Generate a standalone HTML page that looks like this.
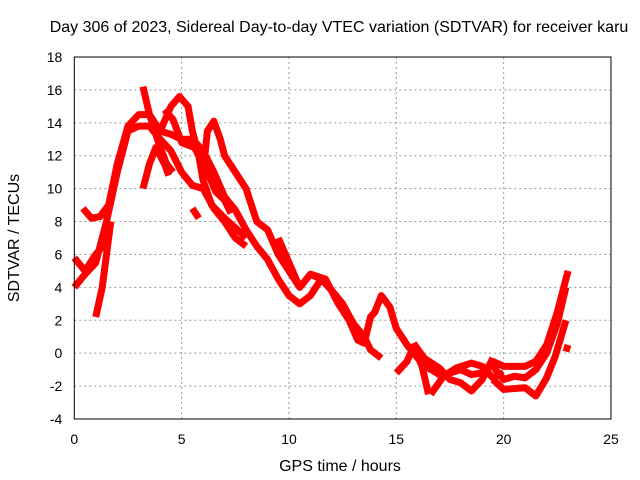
<!DOCTYPE html>
<html><head><meta charset="utf-8"><style>
body{margin:0;background:#fff}
svg{display:block;font-family:"Liberation Sans",sans-serif}
</style></head><body>
<svg id="chart" width="640" height="480">
<text x="339" y="32" font-size="16" text-anchor="middle">Day 306 of 2023, Sidereal Day-to-day VTEC variation (SDTVAR) for receiver karu</text>
<text x="340" y="471" font-size="16" text-anchor="middle">GPS time / hours</text>
<text x="19" y="238" font-size="16" text-anchor="middle" transform="rotate(-90 19 238)">SDTVAR / TECUs</text>
<g id="grid"></g><g id="series"></g><g id="axes"></g>
</svg>
<script>
const xTicks=[0,5,10,15,20,25];
const yTicks=[-4,-2,0,2,4,6,8,10,12,14,16,18];
const track1=[[0,5.8],[0.5,5],[1,6],[1.4,6.6],[1.7,8]];
const track2=[[0.4,8.8],[0.8,8.2],[1.2,8.3],[1.6,9],[2,11.5],[2.5,13.8],[3,14.5],[3.5,14.5],[4,13.5],[4.5,13.3],[5,13],[5.5,13],[6,12.3],[6.5,11],[7,9.5],[7.5,8.7],[8,7.5],[8.5,6.5],[9,5.7],[9.5,4.5],[10,3.5],[10.5,3],[11,3.5],[11.5,4.5]];
const track3=[[0,4],[0.5,4.8],[1,5.5],[1.5,8],[2,11],[2.5,13.5],[3,13.8],[3.5,13.8],[4,13],[4.5,12.3],[5,11],[5.5,10.2],[6,10],[6.5,8.8],[7,8],[7.5,7],[8,6.5]];
const track4=[[1,2.2],[1.3,4],[1.5,6],[1.7,8]];
const track5=[[3.2,16.2],[3.5,14.5],[4,12.5],[4.3,11.5],[4.6,11]];
const track6=[[3.2,10],[3.5,11.5],[3.8,12.5],[4.2,11.5],[4.4,10.8]];
const track7=[[4,13.5],[4.5,15],[4.9,15.6],[5.3,15],[5.5,13.5],[5.8,12],[6,10.5],[6.4,9],[7,8.2],[7.6,7.5],[8,7]];
const track8=[[6,11],[6.2,13.5],[6.5,14.1],[6.8,13],[7,12],[7.5,11],[8,10],[8.5,8],[9,7.5],[9.5,6],[10,5],[10.5,4]];
const track9=[[4.2,14.8],[4.6,14.2],[5,12.8],[5.6,12.5],[6.2,11],[6.6,9.8],[7,9.3],[7.3,8.5]];
const track10=[[5.5,8.8],[5.8,8.2]];
const track11=[[9.5,7],[10,5.5],[10.5,4],[11,4.8],[11.5,4.5],[12,3.8],[12.5,3],[13,1.8],[13.5,1],[13.8,0.2],[14.3,-0.3]];
const track12=[[11,4.8],[11.7,4.5],[12.3,3],[12.8,2],[13.2,0.8],[13.5,0.6],[13.8,2.2],[14,2.5],[14.3,3.5],[14.7,2.8],[15,1.5],[15.5,0.5],[16,-0.3],[16.5,-0.9],[17,-1.3],[17.5,-1.2],[18,-1],[18.5,-1.3],[19,-1.2],[19.5,-0.5],[20,-0.8],[20.5,-0.8],[21,-0.8],[21.5,-0.5],[22,0.5],[22.5,2.5],[23,5]];
const track13=[[15,-1.2],[15.5,-0.5],[15.8,0.4],[16.2,-0.8],[16.5,-2.5]];
const track14=[[15.8,0.6],[16.3,-0.3],[17,-0.9],[17.5,-1.6],[18,-1.8],[18.5,-2.3],[19,-1.6],[19.5,-0.3]];
const track15=[[16.6,-2.5],[17.2,-1.4],[17.8,-0.9],[18.5,-0.6],[19,-0.8],[19.5,-1.5],[20,-1.2]];
const track16=[[19.5,-0.8],[20,-1.6],[20.5,-1.4],[21,-1.5],[21.5,-1],[22,0],[22.5,1.8],[22.9,4]];
const track17=[[19.5,-1.6],[20,-2.2],[21,-2.1],[21.5,-2.6],[22,-1.5],[22.4,-0.2],[22.9,2]];
const track18=[[22.9,0.1],[23,0.5]];
const tracks=[track1,track2,track3,track4,track5,track6,track7,track8,track9,track10,track11,track12,track13,track14,track15,track16,track17,track18];
const NS="http://www.w3.org/2000/svg";
const L=74.3,R=611,T=57,B=419;
function sx(v){return L+(v-0)/(25-0)*(R-L);}
function sy(v){return B-(v+4)/(18+4)*(B-T);}
const grid=document.getElementById('grid'),axes=document.getElementById('axes'),ser=document.getElementById('series');
function mk(tag,attrs,parent){const e=document.createElementNS(NS,tag);for(const k in attrs)e.setAttribute(k,attrs[k]);parent.appendChild(e);return e;}
xTicks.forEach(t=>{
 if(t>0&&t<25){const g=mk('line',{x1:sx(t),x2:sx(t),y1:T,y2:B,stroke:'#999','stroke-dasharray':'2,3'},grid);
 
 }
 const tx=mk('text',{x:sx(t),y:B+25,'font-size':14,'text-anchor':'middle'},axes);tx.textContent=t;
 
 
});
yTicks.forEach(t=>{
 if(t>-4&&t<18){const g=mk('line',{x1:L,x2:R,y1:sy(t),y2:sy(t),stroke:'#999','stroke-dasharray':'2,3'},grid);
 
 }
 const tx=mk('text',{x:L-12,y:sy(t)+5,'font-size':14,'text-anchor':'end'},axes);tx.textContent=t;
 
 
});
const fr=mk('rect',{x:L,y:T,width:R-L,height:B-T,fill:'none',stroke:'#000','stroke-width':1},axes);


tracks.forEach(tr=>{
 const p=mk('polyline',{points:tr.map(d=>sx(d[0])+','+sy(d[1])).join(' '),fill:'none',stroke:'#ff0000','stroke-width':7,'stroke-linejoin':'round','stroke-linecap':'butt'},ser);
 
 
});
</script>
</body></html>
